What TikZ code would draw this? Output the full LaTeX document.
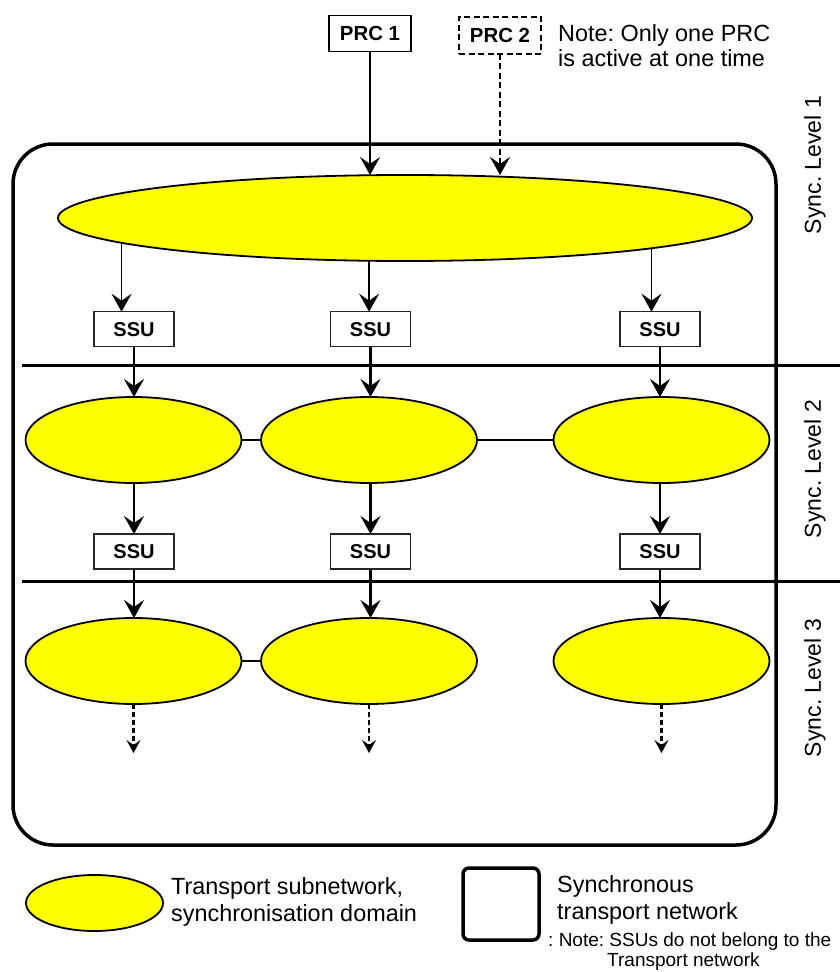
\documentclass[tikz,border=0pt]{standalone}
\usepackage{fontspec}
\setmainfont{Liberation Sans}
\usetikzlibrary{arrows.meta,shapes.geometric}
\definecolor{domainfill}{RGB}{255,255,0}

\begin{document}
\frenchspacing
\begin{tikzpicture}[x=1pt,y=-1pt,
  dom/.style={ellipse,draw=black,line width=1.8pt,fill=domainfill,
    inner sep=0pt,outer sep=0pt,minimum width=216pt,minimum height=86pt},
  ssubox/.style={draw=black!85,line width=1.2pt,minimum width=80pt,
    minimum height=35pt,inner sep=0pt,outer sep=0pt,
    font=\bfseries\fontsize{20}{22}\selectfont},
  prcbox/.style={draw=black,minimum width=82pt,minimum height=36pt,
    inner sep=0pt,outer sep=0pt,font=\bfseries\fontsize{20.4}{22}\selectfont},
  tip/.style={-{Stealth[length=18pt,width=20pt,inset=7pt]}},
  arr/.style={line width=2.2pt,tip},
  darr/.style={line width=2.2pt,dash pattern=on 5pt off 3pt,
    -{Stealth[length=13pt,width=14pt,inset=5pt]}},
  level/.style={line width=3pt},
  link/.style={line width=2.6pt},
  sidelabel/.style={rotate=90,font=\fontsize{23}{25}\selectfont},
  bigtext/.style={anchor=base west,inner sep=0pt,font=\fontsize{23.4}{25}\selectfont},
  smalltext/.style={anchor=base west,inner sep=0pt,font=\fontsize{19}{20}\selectfont}
]
\useasboundingbox (0,0) rectangle (840,972);

% synchronous transport network frame
\draw[line width=3.5pt,rounded corners=40pt] (13,144) rectangle (776,845);

% level separators
\draw[level] (22,365) -- (840,365);
\draw[level] (22,581.5) -- (840,581.5);

% clock sources
\node[prcbox,line width=1.5pt] (prc1) at (370,33.7) {PRC 1};
\node[prcbox,line width=2.5pt,dash pattern=on 6pt off 3.5pt,minimum height=37pt] (prc2) at (500,35.3) {PRC 2};
\node[bigtext] (note1) at (558,41.7) {Note: Only one PRC};
\node[bigtext] (note2) at (558,66.7) {is active at one time};

% level 1 domain
\node[dom,minimum width=694pt,minimum height=86pt] (big) at (405,218) {};

% level 2 and 3 domains
\node[dom] (e21) at (133.5,440) {};
\node[dom] (e22) at (369,440) {};
\node[dom] (e23) at (661.5,440) {};
\node[dom] (e31) at (133.5,661) {};
\node[dom] (e32) at (369,661) {};
\node[dom] (e33) at (661.5,661) {};

% SSUs
\node[ssubox] (s11) at (134,329.2) {SSU};
\node[ssubox] (s12) at (370.5,329.2) {SSU};
\node[ssubox] (s13) at (660,329.2) {SSU};
\node[ssubox] (s21) at (134,551.5) {SSU};
\node[ssubox] (s22) at (370.5,551.5) {SSU};
\node[ssubox] (s23) at (660,551.5) {SSU};

% PRC feeds
\draw[arr,line width=1.8pt] (prc1.south) -- (prc1.south |- big.north);
\draw[line width=2.5pt,dash pattern=on 6pt off 3.5pt,tip] (prc2.south) -- (prc2.south |- big.north);

% level 1 to SSUs
\draw[arr,line width=1.8pt] (big.185.6) -- (big.185.6 |- s11.north);
\draw[arr] (big.230.7) -- (big.230.7 |- s12.north);
\draw[arr,line width=1.8pt] (big.353.4) -- (big.353.4 |- s13.north);

% SSUs to level 2
\draw[arr] (s11.south) -- (s11.south |- e21.north);
\draw[arr] (s12.south) -- (s12.south |- e22.north);
\draw[arr] (s13.south) -- (s13.south |- e23.north);

% level 2 to SSUs
\draw[arr] (s21.north |- e21.south) -- (s21.north);
\draw[arr] (s22.north |- e22.south) -- (s22.north);
\draw[arr] (s23.north |- e23.south) -- (s23.north);

% SSUs to level 3
\draw[arr] (s21.south) -- (s21.south |- e31.north);
\draw[arr] (s22.south) -- (s22.south |- e32.north);
\draw[arr] (s23.south) -- (s23.south |- e33.north);

% onward distribution
\coordinate (o1) at (133.5,753);
\coordinate (o2) at (369,753);
\coordinate (o3) at (661.5,753);
\draw[darr] (e31.south) -- (o1);
\draw[darr] (e32.south) -- (o2);
\draw[darr] (e33.south) -- (o3);

% links between domains
\draw[link] (e21.east) -- (e22.west);
\draw[link] (e22.east) -- (e23.west);
\draw[link] (e31.east) -- (e32.west);

% level labels
\node[sidelabel] (lv1) at (815,165) {Sync. Level 1};
\node[sidelabel] (lv2) at (815,469) {Sync. Level 2};
\node[sidelabel] (lv3) at (815,688) {Sync. Level 3};

% legend
\node[dom,minimum width=137pt,minimum height=56pt] (legdom) at (94.5,903) {};
\node[bigtext] (lt1) at (171,894.3) {Transport subnetwork,};
\node[bigtext] (lt2) at (171,921.7) {synchronisation domain};
\node[draw=black,line width=3.5pt,rounded corners=6pt,minimum width=76pt,
  minimum height=72pt,inner sep=0pt] (legnet) at (501,904) {};
\node[bigtext] (lt3) at (557,892.7) {Synchronous};
\node[bigtext] (lt4) at (557,919.2) {transport network};
\node[smalltext] (lt5) at (548,946.7) {: Note: SSUs do not belong to the};
\node[smalltext] (lt6) at (607,966.5) {Transport network};
\end{tikzpicture}
\end{document}
